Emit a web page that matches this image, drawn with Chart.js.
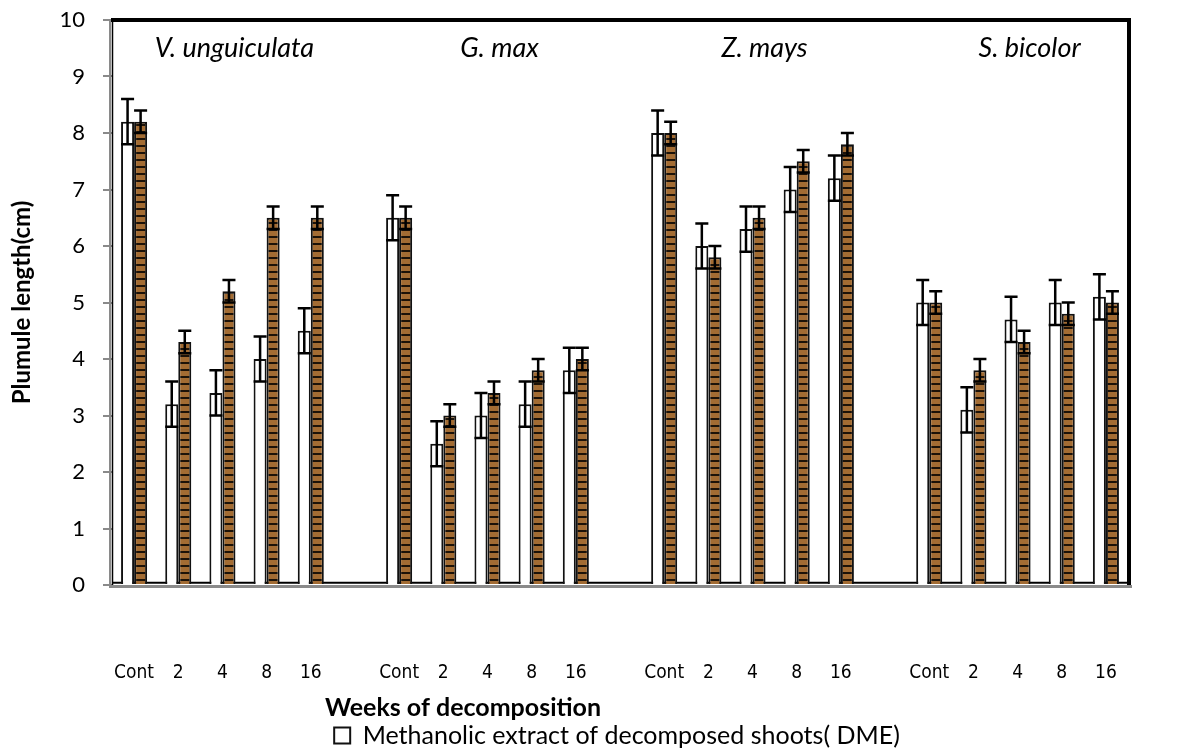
<!DOCTYPE html>
<html><head><meta charset="utf-8">
<script src="https://cdn.jsdelivr.net/npm/chart.js@4.4.1/dist/chart.umd.min.js"></script>
<style>html,body{margin:0;padding:0;background:#fff;}</style>
</head><body>
<canvas id="c" width="1196" height="753"></canvas>
<script>
// ---- data ----
const categories = ['Cont','2','4','8','16','',
                    'Cont','2','4','8','16','',
                    'Cont','2','4','8','16','',
                    'Cont','2','4','8','16'];
const speciesNames = ['V. unguiculata','G. max','Z. mays','S. bicolor'];
const speciesFirstIndex = [0, 6, 12, 18];
const dmeValues = [8.2, 3.2, 3.4, 4.0, 4.5, null,
                   6.5, 2.5, 3.0, 3.2, 3.8, null,
                   8.0, 6.0, 6.3, 7.0, 7.2, null,
                   5.0, 3.1, 4.7, 5.0, 5.1];
const dmeErrors = [0.4, 0.4, 0.4, 0.4, 0.4, null,
                   0.4, 0.4, 0.4, 0.4, 0.4, null,
                   0.4, 0.4, 0.4, 0.4, 0.4, null,
                   0.4, 0.4, 0.4, 0.4, 0.4];
const secondValues = [8.2, 4.3, 5.2, 6.5, 6.5, null,
                      6.5, 3.0, 3.4, 3.8, 4.0, null,
                      8.0, 5.8, 6.5, 7.5, 7.8, null,
                      5.0, 3.8, 4.3, 4.8, 5.0];
const secondErrors = [0.2, 0.2, 0.2, 0.2, 0.2, null,
                      0.2, 0.2, 0.2, 0.2, 0.2, null,
                      0.2, 0.2, 0.2, 0.2, 0.2, null,
                      0.2, 0.2, 0.2, 0.2, 0.2];
const yMin = 0, yMax = 10, yStep = 1;
const legendText = 'Methanolic extract of decomposed shoots( DME)';
const xTitle = 'Weeks of decomposition';
const yTitle = 'Plumule length(cm)';

// ---- striped brown pattern ----
function makeStripes() {
  const p = document.createElement('canvas');
  p.width = 8; p.height = 7;
  const g = p.getContext('2d');
  g.fillStyle = '#A36C33'; g.fillRect(0, 0, 8, 7);
  g.fillStyle = '#1c1208'; g.fillRect(0, 5, 8, 2);
  return document.getElementById('c').getContext('2d').createPattern(p, 'repeat');
}
const stripes = makeStripes();

const errorMap = [dmeErrors, secondErrors];

const decorPlugin = {
  id: 'decor',
  beforeDatasetsDraw(chart) {
    const {ctx, chartArea: a, scales: {y}} = chart;
    ctx.save();
    ctx.strokeStyle = '#000'; ctx.lineWidth = 2;
    const yy = y.getPixelForValue(0.04);
    ctx.beginPath(); ctx.moveTo(a.left, yy); ctx.lineTo(a.right, yy); ctx.stroke();
    ctx.restore();
  },
  afterDatasetsDraw(chart) {
    const {ctx, chartArea: a, scales: {x, y}} = chart;
    ctx.save();
    // error bars
    ctx.strokeStyle = '#000'; ctx.lineWidth = 2.5; ctx.lineCap = 'butt';
    [0, 1].forEach(di => {
      const meta = chart.getDatasetMeta(di);
      const vals = chart.data.datasets[di].data;
      meta.data.forEach((bar, i) => {
        const v = vals[i], e = errorMap[di][i];
        if (v == null || e == null) return;
        const top = y.getPixelForValue(v + e), bot = y.getPixelForValue(v - e);
        const hw = bar.width / 2;
        ctx.beginPath();
        ctx.moveTo(bar.x, top); ctx.lineTo(bar.x, bot);
        ctx.moveTo(bar.x - hw, top); ctx.lineTo(bar.x + hw, top);
        ctx.moveTo(bar.x - hw, bot); ctx.lineTo(bar.x + hw, bot);
        ctx.stroke();
      });
    });
    // frame
    ctx.strokeStyle = '#8a8a8a'; ctx.lineWidth = 2;
    ctx.beginPath(); ctx.moveTo(a.left - 2, a.top); ctx.lineTo(a.left - 2, a.bottom + 2); ctx.stroke();
    ctx.lineWidth = 3;
    ctx.beginPath(); ctx.moveTo(a.left - 3, a.bottom + 1.5); ctx.lineTo(a.right + 4, a.bottom + 1.5); ctx.stroke();
    ctx.strokeStyle = '#000';
    ctx.lineWidth = 1.5;
    ctx.beginPath(); ctx.moveTo(a.left + 0.5, a.top); ctx.lineTo(a.left + 0.5, a.bottom); ctx.stroke();
    ctx.lineWidth = 4;
    ctx.beginPath(); ctx.moveTo(a.left - 1, a.top); ctx.lineTo(a.right + 3, a.top); ctx.stroke();
    ctx.beginPath(); ctx.moveTo(a.right + 1, a.top - 2); ctx.lineTo(a.right + 1, a.bottom); ctx.stroke();
    // species names
    ctx.fillStyle = '#000';
    ctx.font = 'italic 27px Lato';
    ctx.textAlign = 'center'; ctx.textBaseline = 'middle';
    speciesNames.forEach((s, k) => {
      const i0 = speciesFirstIndex[k];
      const cx = (x.getPixelForValue(i0) + x.getPixelForValue(i0 + 4)) / 2 + 12;
      ctx.fillText(s, cx, y.getPixelForValue(9.5));
    });
    // x axis title
    ctx.font = 'bold 25px Lato';
    ctx.fillText(xTitle, a.left + 0.3455 * (a.right - a.left), a.bottom + 123);
    ctx.restore();
  }
};

new Chart(document.getElementById('c'), {
  type: 'bar',
  data: {
    labels: categories,
    datasets: [
      { label: legendText, data: dmeValues, backgroundColor: '#fff', borderColor: '#111', borderWidth: 2 },
      { label: 'second extract', data: secondValues, backgroundColor: stripes, borderColor: '#111', borderWidth: 2 }
    ]
  },
  options: {
    responsive: false, animation: false, devicePixelRatio: 1,
    layout: { padding: { top: 20, right: 0, left: 38, bottom: -5 } },
    datasets: { bar: { categoryPercentage: 0.59, barPercentage: 1 } },
    scales: {
      x: {
        grid: { display: false, drawTicks: false }, border: { display: false },
        ticks: { autoSkip: false, maxRotation: 0, padding: 77, color: '#000',
                 font: { family: "'Liberation Sans Narrow','DejaVu Sans Condensed',sans-serif", size: 19 } },
        afterFit(s) { s.height = 132; }
      },
      y: {
        min: yMin, max: yMax,
        ticks: { stepSize: yStep, padding: 18, color: '#000', font: { family: 'Lato', size: 22 } },
        grid: { drawOnChartArea: false, drawTicks: true, tickLength: 9, color: '#8a8a8a', lineWidth: 2 },
        border: { display: false },
        title: { display: true, text: yTitle, color: '#000', padding: { top: -30.4, bottom: 0 },
                 font: { family: 'Lato', size: 24, weight: 'bold' } },
        afterFit(s) { s.width = 74; s.paddingTop = 0; s.paddingBottom = 0; }
      },
      yRight: {
        position: 'right', min: yMin, max: yMax, display: true,
        grid: { display: false }, border: { display: false }, ticks: { display: false },
        afterFit(s) { s.width = 68; s.paddingTop = 0; s.paddingBottom = 0; }
      }
    },
    plugins: {
      legend: {
        position: 'bottom',
        labels: { filter: it => it.datasetIndex === 0, boxWidth: 16, boxHeight: 16, padding: 6,
                  color: '#000', font: { family: 'Lato', size: 25 } }
      },
      tooltip: { enabled: false }
    }
  },
  plugins: [decorPlugin]
});
</script>
</body></html>
